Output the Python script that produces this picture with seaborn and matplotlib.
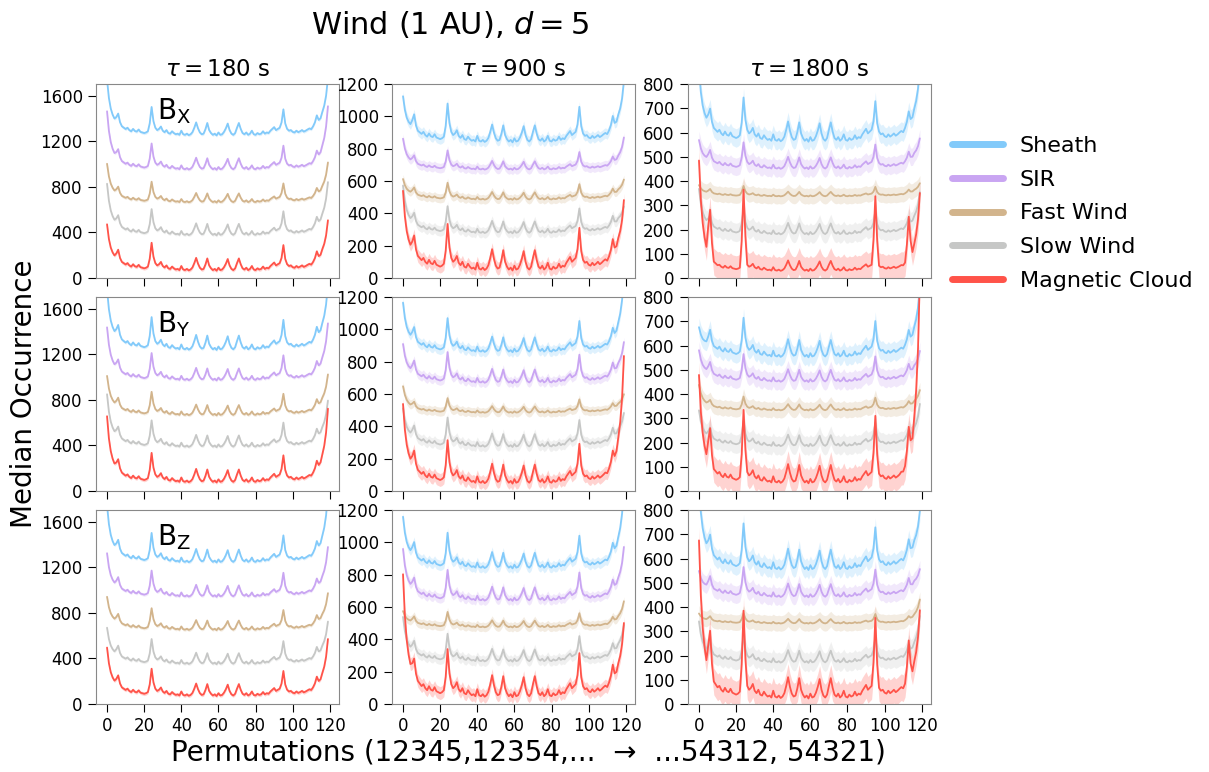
import numpy as np
import pandas as pd
import seaborn as sns
import matplotlib.pyplot as plt

# permutation index 0..119 (lexicographic order of 12345 ... 54321)
perms = list(range(120))

# common texture of all curves (peak at 24 = 100)
shape = [30, 30, 30, 32, 35, 50, 68, 42, 30, 27, 24, 30, 22, 18, 26, 19, 17, 24, 16, 14,
         12, 14, 18, 45, 100, 52, 30, 22, 26, 34, 20, 15, 22, 12, 10, 18, 12, 8, 10, 6,
         20, 8, 6, 10, 5, 8, 15, 30, 48, 28, 14, 8, 10, 25, 46, 22, 12, 6, 10, 4,
         14, 6, 8, 16, 28, 44, 22, 10, 6, 12, 30, 46, 26, 12, 8, 14, 6, 10, 20, 8,
         6, 12, 8, 10, 18, 10, 14, 12, 20, 26, 32, 22, 26, 30, 48, 92, 44, 26, 20, 22,
         16, 14, 20, 15, 18, 22, 17, 20, 24, 26, 22, 30, 42, 62, 40, 36, 42, 40, 38, 36]

# extra height of the dominant spikes (used mostly for Magnetic Cloud at 1800 s)
spike_idx = [5, 6, 7, 23, 24, 25, 94, 95, 96, 112, 113, 114]
spike_val = [40, 68, 25, 35, 100, 40, 35, 92, 35, 25, 62, 25]

# steep rise at both ends
edge_val = [100, 62, 40, 26, 16, 10, 6, 4, 3, 2, 1]

winds = ["Sheath", "SIR", "Fast Wind", "Slow Wind", "Magnetic Cloud"]
colors = ["#82CAFA", "#C9A5F2", "#D2B48C", "#C6C7C6", "#FF5349"]

taus = ["180", "900", "1800"]
comps = ["X", "Y", "Z"]

# per panel (row = component, col = tau): one entry per wind
# base, amplitude, spike, left end, right end
base = {
    (0, 0): [1240, 940, 655, 365, 55], (0, 1): [830, 665, 480, 270, 35], (0, 2): [555, 445, 335, 175, 25],
    (1, 0): [1225, 960, 655, 375, 65], (1, 1): [850, 660, 480, 265, 35], (1, 2): [545, 445, 330, 180, 25],
    (2, 0): [1230, 930, 640, 340, 60], (2, 1): [830, 630, 470, 255, 30], (2, 2): [545, 435, 330, 165, 15],
}
amp = {
    (0, 0): [260, 240, 190, 240, 255], (0, 1): [250, 125, 110, 175, 300], (0, 2): [190, 115, 45, 110, 100],
    (1, 0): [300, 250, 215, 245, 270], (1, 1): [220, 200, 95, 190, 280], (1, 2): [170, 120, 60, 110, 180],
    (2, 0): [270, 240, 200, 230, 250], (2, 1): [230, 200, 100, 180, 310], (2, 2): [200, 130, 45, 120, 200],
}
spike = {
    (0, 0): [0, 0, 0, 0, 0], (0, 1): [0, 0, 0, 0, 0], (0, 2): [0, 0, 0, 0, 240],
    (1, 0): [0, 0, 0, 0, 0], (1, 1): [0, 0, 0, 0, 0], (1, 2): [0, 0, 0, 0, 130],
    (2, 0): [0, 0, 0, 0, 0], (2, 1): [0, 0, 0, 0, 0], (2, 2): [0, 0, 0, 0, 170],
}
end_left = {
    (0, 0): [420, 450, 290, 390, 340], (0, 1): [220, 160, 100, 250, 415], (0, 2): [250, 90, 35, 160, 430],
    (1, 0): [450, 400, 290, 400, 510], (1, 1): [250, 190, 140, 190, 420], (1, 2): [80, 100, 90, 120, 400],
    (2, 0): [430, 320, 240, 260, 360], (2, 1): [260, 270, 75, 230, 680], (2, 2): [300, 75, 30, 140, 600],
}
end_right = {
    (0, 0): [420, 480, 290, 390, 360], (0, 1): [300, 160, 90, 110, 340], (0, 2): [250, 90, 40, 140, 290],
    (1, 0): [480, 420, 290, 330, 560], (1, 1): [400, 190, 85, 150, 700], (1, 2): [240, 90, 65, 140, 800],
    (2, 0): [520, 360, 260, 300, 420], (2, 1): [420, 270, 130, 170, 360], (2, 2): [180, 75, 85, 155, 300],
}
# half width of the shaded spread, per column
band = [[14, 14, 14, 14, 16], [32, 30, 28, 32, 40], [38, 36, 32, 38, 55]]

ylims = [1700, 1200, 800]
ysteps = [400, 200, 100]

shape_arr = np.array(shape, dtype=float)
spike_arr = np.zeros(120)
spike_arr[spike_idx] = spike_val
edge_l = np.zeros(120)
edge_l[:len(edge_val)] = edge_val
edge_r = edge_l[::-1]

sns.set_style("ticks")
plt.rcParams.update({
    "axes.edgecolor": "#888888",
    "text.color": "black",
    "axes.labelcolor": "black",
    "xtick.color": "black",
    "ytick.color": "black",
})
plt.rcParams["font.family"] = ["DejaVu Sans"]

fig, axes = plt.subplots(3, 3, figsize=(12.09, 7.72), dpi=100)
fig.subplots_adjust(left=0.0794, right=0.770, top=0.891, bottom=0.088, wspace=0.218, hspace=0.098)

for r in range(3):
    for c in range(3):
        ax = axes[r, c]
        rows = []
        for k, w in enumerate(winds):
            y = (base[(r, c)][k] + amp[(r, c)][k] * shape_arr / 100
                 + spike[(r, c)][k] * spike_arr / 100
                 + end_left[(r, c)][k] * edge_l / 100 + end_right[(r, c)][k] * edge_r / 100)
            ax.fill_between(perms, np.clip(y - band[c][k], 0, None), y + band[c][k],
                            color=colors[k], alpha=0.25, lw=0)
            rows.append(pd.DataFrame({"perm": perms, "occ": y, "wind": w}))
        df = pd.concat(rows)
        sns.lineplot(data=df, x="perm", y="occ", hue="wind", palette=colors,
                     hue_order=winds, ax=ax, legend=False, errorbar=None, linewidth=1.3)
        ax.set_ylim(0, ylims[c])
        ax.set_yticks(range(0, ylims[c] + 1, ysteps[c]))
        ax.set_xticks(range(0, 121, 20))
        ax.set_xlabel("")
        ax.set_ylabel("")
        ax.tick_params(labelsize=12, length=6, color="black", labelcolor="black")
        if r < 2:
            ax.set_xticklabels([])
        if r == 0:
            ax.set_title(r"$\tau = %s$ s" % taus[c], fontsize=16.5, pad=6)
        if c == 0:
            ax.text(0.25, 0.94, r"B$_\mathrm{%s}$" % comps[r], transform=ax.transAxes,
                    fontsize=20, va="top")

handles = [plt.Line2D([], [], color=colors[k], lw=5) for k in range(5)]
fig.legend(handles, winds, loc="upper left", bbox_to_anchor=(0.771, 0.850),
           frameon=False, fontsize=16, handlelength=2.3, handletextpad=0.75,
           labelspacing=0.62)

fig.suptitle(r"Wind (1 AU), $d = 5$", x=0.372, y=0.988, fontsize=22)
fig.text(0.02, 0.49, "Median Occurrence", rotation=90, fontsize=20, va="center", ha="center")
fig.text(0.437, 0.025, "Permutations (12345,12354,...  \u2192  ...54312, 54321)",
         fontsize=20, ha="center", va="center")

fig.savefig("out.png", dpi=100)
